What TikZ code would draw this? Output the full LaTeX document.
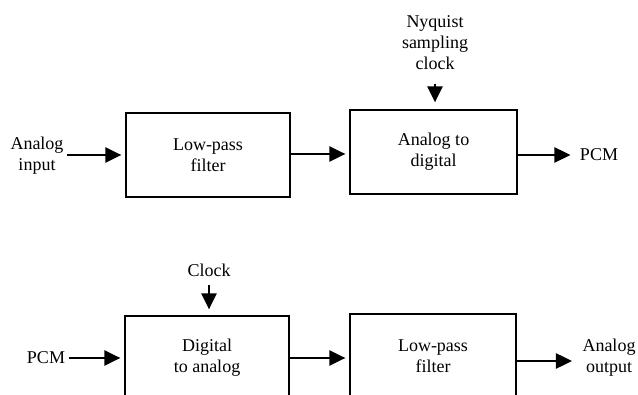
\documentclass[tikz,border=0pt]{standalone}
\usepackage{fontspec}
\setmainfont{Liberation Serif}
\usetikzlibrary{arrows.meta}

\begin{document}
\begin{tikzpicture}[
    x = 1pt, y = -1pt,
    every node/.style = {font = \fontsize{18}{21}\selectfont, align = center},
    block/.style = {draw, line width = 1.2pt, minimum width = 164pt,
                    minimum height = 84pt, inner sep = 0pt},
    sig/.style = {line width = 2.6pt, -{Triangle[length = 16pt, width = 15pt]}}]

\clip (0,0) rectangle (638,395);
% encoder
\path (208,155) node[block] (lpfa) {Low-pass\\filter}
      (433.5,152) node[block, minimum width = 167pt] (adc) {Analog to\\digital}
      (37,156) node (ain) {Analog\\input}
      (435,43) node (nyq) {Nyquist\\sampling\\clock}
      (599,155) node (pcma) {PCM};
% decoder
\path (207,358) node[block] (dac) {Digital\\to analog}
      (433,356) node[block, minimum width = 166pt] (lpfb) {Low-pass\\filter}
      (46,358) node (pcmb) {PCM}
      (209,270) node (clk) {Clock}
      (609,358) node (aout) {Analog\\output};

\draw[sig, shorten > = 4pt] (ain.east |- 0,155) -- (lpfa.west |- 0,155);
\draw[sig, shorten > = 4pt] (lpfa.east |- 0,154) -- (adc.west |- 0,154);
\draw[sig, shorten > = 6pt] (adc.east |- 0,155) -- (pcma.west |- 0,155);
\draw[sig, shorten < = 10pt, shorten > = 7pt] (nyq.south) -- (nyq.south |- adc.north);
\draw[sig, shorten > = 4pt] (pcmb.east |- 0,358) -- (dac.west |- 0,358);
\draw[sig, shorten > = 4pt] (dac.east |- 0,358) -- (lpfb.west |- 0,358);
\draw[sig, shorten > = 7pt] (lpfb.east |- 0,361) -- (aout.west |- 0,361);
\draw[sig, shorten < = 5pt, shorten > = 6pt] (clk.south) -- (clk.south |- dac.north);
\end{tikzpicture}
\end{document}
